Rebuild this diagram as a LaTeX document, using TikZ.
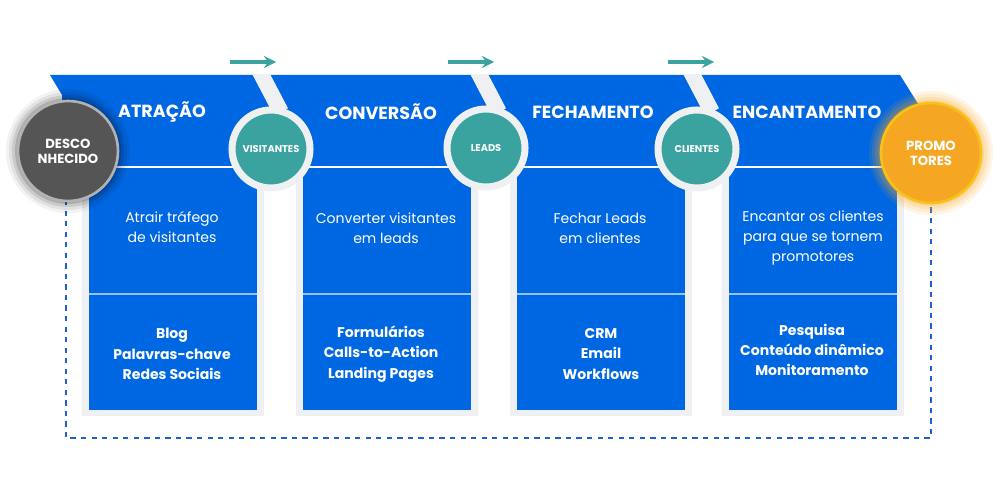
\documentclass[tikz,border=0pt]{standalone}
\usepackage{fontspec}
\setmainfont{Poppins}
\begin{document}
\begin{tikzpicture}[x=0.02cm,y=-0.02cm,
  ttl/.style={text=white,font=\fontsize{10pt}{12pt}\selectfont\bfseries},
  dsc/.style={text=white,align=center,font=\fontsize{8pt}{11.5pt}\selectfont},
  itm/.style={text=white,align=center,font=\fontsize{8pt}{11.5pt}\selectfont\bfseries},
  stg/.style={circle,fill=tealc,draw=ringg,line width=4pt,minimum size=78*0.02cm,inner sep=0pt,text=white,font=\fontsize{5.6pt}{6pt}\selectfont\bfseries},
  big/.style={circle,line width=1.5pt,minimum size=100*0.02cm,text=white,align=center,font=\fontsize{7.5pt}{8.5pt}\selectfont\bfseries},
  arr/.style={draw=tealc,line width=2pt,->,>=stealth}]
\definecolor{blu}{HTML}{0067E3}
\definecolor{tealc}{HTML}{3AA3A0}
\definecolor{ringg}{HTML}{EEF0F1}
\definecolor{org}{HTML}{F5A623}
\definecolor{dgr}{HTML}{555555}
\definecolor{dashc}{HTML}{1F5FD6}
\useasboundingbox (0,0) rectangle (1000,500);
% column backgrounds
\foreach \x in {82,296,510,722}{
  \fill[ringg] (\x,160) rectangle (\x+182,416);
  \fill[blu] (\x+7,160) rectangle (\x+175,410);
  \draw[white!60!blu,line width=0.8pt] (\x+7,294) -- (\x+175,294);
}
% top band
\fill[blu] (50,75) -- (900,75) -- (925,115) -- (925,167) -- (62,167) -- (62,95) -- cycle;
\draw[white,line width=1.6pt] (62,167) -- (925,167);
\begin{scope}
\clip (0,75) rectangle (1000,167);
\foreach \x in {259,477,690}{
  \draw[ringg,line width=9pt] (\x,70) -- (\x+22,112);
}
\end{scope}
% dashed loop
\coordinate (dl) at (66,200);
\coordinate (dr) at (931,205);
\draw[dashc,dashed,line width=1.2pt] (dl) -- (66,438) -- (931,438) -- (dr);
% glows
\foreach \r/\o in {62/0.05,59/0.07,56/0.1,53/0.14}{
  \fill[black,opacity=\o] (68,151) circle (\r);
  \fill[org,opacity=\o+0.06] (931,153) circle (\r);
}
\node[big,fill=dgr,draw=gray!60] (desc) at (68,151) {DESCO\\NHECIDO};
\node[big,fill=org,draw=org!70!yellow] (prom) at (931,153) {PROMO\\TORES};
\node[stg] (vis) at (271,149) {VISITANTES};
\node[stg] (lea) at (486,148) {LEADS};
\node[stg] (cli) at (697,149) {CLIENTES};
% arrows
\foreach \x/\n in {230/a,448/b,668/c}{
  \coordinate (\n1) at (\x,62); \coordinate (\n2) at (\x+46,62);
  \draw[arr] (\n1) -- (\n2);
}
% titles
\node[ttl] (t1) at (162,112) {ATRAÇÃO};
\node[ttl] (t2) at (381,112) {CONVERSÃO};
\node[ttl] (t3) at (593,112) {FECHAMENTO};
\node[ttl] (t4) at (807,112) {ENCANTAMENTO};
\node[dsc] (d1) at (172,227) {Atrair tráfego\\de visitantes};
\node[dsc] (d2) at (386,228) {Converter visitantes\\em leads};
\node[dsc] (d3) at (600,228) {Fechar Leads\\em clientes};
\node[dsc] (d4) at (813,238) {Encantar os clientes\\para que se tornem\\promotores};
\node[itm] (i1) at (172,354) {Blog\\Palavras-chave\\Redes Sociais};
\node[itm] (i2) at (381,354) {Formulários\\Calls-to-Action\\Landing Pages};
\node[itm] (i3) at (601,354) {CRM\\Email\\Workflows};
\node[itm] (i4) at (812,350) {Pesquisa\\Conteúdo dinâmico\\Monitoramento};
\end{tikzpicture}
\end{document}
